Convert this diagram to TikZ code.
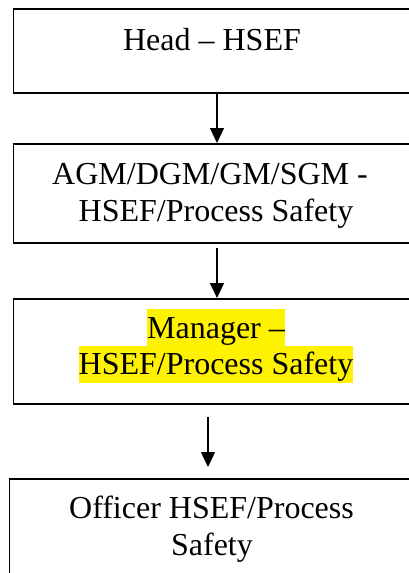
\documentclass[tikz,border=0pt]{standalone}
\usepackage{fontspec}
\setmainfont{Liberation Serif}
\usetikzlibrary{arrows.meta}
\tikzset{
  orgbox/.style={draw=black, line width=1.5pt, fill=none, inner sep=0pt, anchor=north west},
  lbl/.style={anchor=base, inner sep=0pt, font=\fontsize{32}{36.8}\selectfont},
  hl/.style={lbl, fill=yellow, text height=29pt, text depth=8pt},
  arr/.style={line width=1.3pt, -{Triangle[length=15pt,width=14pt]}}
}
\begin{document}
\begin{tikzpicture}[x=1pt,y=-1pt]
\useasboundingbox (0,0) rectangle (409,573);
\clip (0,0) rectangle (409,573);
% boxes
\node[orgbox, minimum width=399.5pt, minimum height=84pt] (b1) at (12.5,8) {};
\node[orgbox, minimum width=399.5pt, minimum height=99pt] (b2) at (12.5,143) {};
\node[orgbox, minimum width=399.5pt, minimum height=105pt] (b3) at (12.5,298) {};
\node[orgbox, minimum width=410pt, minimum height=115pt] (b4) at (8.5,478) {};
% texts
\node[lbl] (t1) at (212,50.5) {Head – HSEF};
\node[lbl] (t2a) at (210,184) {AGM/DGM/GM/SGM -};
\node[lbl] (t2b) at (216,221) {HSEF/Process Safety};
\node[hl] (t3a) at (216,338) {Manager –};
\node[hl] (t3b) at (216,374.5) {HSEF/Process Safety};
\node[lbl] (t4a) at (211.5,518) {Officer HSEF/Process};
\node[lbl] (t4b) at (212,555) {Safety};
% arrow guides
\coordinate (x1) at (217,0);
\coordinate (x3) at (208,0);
\coordinate (s2) at (217,248);
\coordinate (s3) at (208,417);
\coordinate (e3) at (208,467);
% connectors
\draw[arr] (b1.south -| x1) -- (b2.north -| x1);
\draw[arr] (s2) -- (b3.north -| x1);
\draw[arr] (s3) -- (e3);
\end{tikzpicture}
\end{document}
